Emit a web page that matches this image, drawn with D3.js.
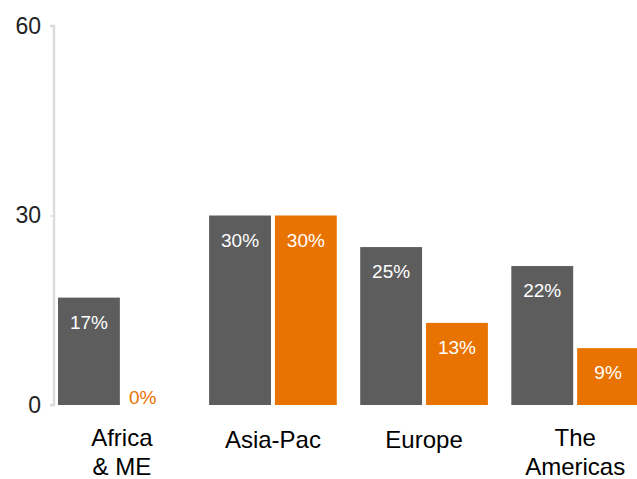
<!DOCTYPE html>
<html>
<head>
<meta charset="utf-8">
<script src="https://cdn.jsdelivr.net/npm/d3@7"></script>
<style>
  html, body { margin: 0; padding: 0; background: #fff; }
  svg { display: block; font-family: "Liberation Sans", Arial, Helvetica, sans-serif; }
</style>
</head>
<body>
<svg id="chart" width="637" height="479"></svg>
<script>
const categories = [["Africa", "& ME"], ["Asia-Pac"], ["Europe"], ["The", "Americas"]];
const seriesNames = ["s1", "s2"];
const series1 = [17, 30, 25, 22];
const series2 = [0, 30, 13, 9];
const yTicks = [0, 30, 60];

const colors = ["#5d5d5d", "#e97300"];
const svg = d3.select("#chart");

const x = d3.scaleBand().domain(d3.range(categories.length)).range([58, 639]).paddingInner(0.155).paddingOuter(0);
const xs = d3.scaleBand().domain(seriesNames).range([0, x.bandwidth()]).paddingInner(0.06);
const y = d3.scaleLinear().domain([0, 60]).range([405, 26]);

// axis
const yAxis = d3.axisLeft(y).tickValues(yTicks).tickSize(4).tickPadding(9).tickFormat(d3.format("d"));
const ag = svg.append("g").attr("transform", "translate(54,0)").call(yAxis);
ag.select(".domain").attr("stroke", "#dcdcdc").attr("stroke-width", 2.5).attr("d", `M-4,${y(60)}H0V${y(0)}H-4`);
ag.selectAll(".tick line").attr("stroke", "#dcdcdc").attr("stroke-width", 1.5);
ag.selectAll(".tick text").attr("fill", "#222").attr("font-size", 23).attr("font-family", "Liberation Sans, Arial, sans-serif");

const data = categories.map((c, i) => ({ i, vals: [series1[i], series2[i]] }));
const groups = svg.append("g").selectAll("g").data(data).join("g")
  .attr("transform", d => `translate(${x(d.i)},0)`);

groups.selectAll("rect").data(d => d.vals.map((v, k) => ({ v, k }))).join("rect")
  .attr("x", d => xs(seriesNames[d.k]))
  .attr("width", xs.bandwidth())
  .attr("y", d => y(d.v))
  .attr("height", d => y(0) - y(d.v))
  .attr("fill", d => colors[d.k]);

groups.selectAll("text.val").data(d => d.vals.map((v, k) => ({ v, k }))).join("text")
  .attr("class", "val")
  .attr("x", d => xs(seriesNames[d.k]) + xs.bandwidth() / 2 + (d.v === 0 ? -12 : 0))
  .attr("y", d => d.v === 0 ? y(0) - 1 : y(d.v) + 31)
  .attr("text-anchor", "middle")
  .attr("font-size", 19)
  .attr("fill", d => d.v === 0 ? colors[d.k] : "#ffffff")
  .text(d => d.v + "%");

// category labels
const cl = svg.append("g").selectAll("text").data(data).join("text")
  .attr("text-anchor", "middle")
  .attr("font-size", 24)
  .attr("fill", "#000")
  .attr("transform", d => `translate(${x(d.i) + x.bandwidth() / 2},${categories[d.i].length > 1 ? 446 : 448})`);
cl.selectAll("tspan").data(d => categories[d.i]).join("tspan")
  .attr("x", 0)
  .attr("dy", (t, j) => j === 0 ? 0 : 29)
  .text(t => t);
</script>
</body>
</html>
